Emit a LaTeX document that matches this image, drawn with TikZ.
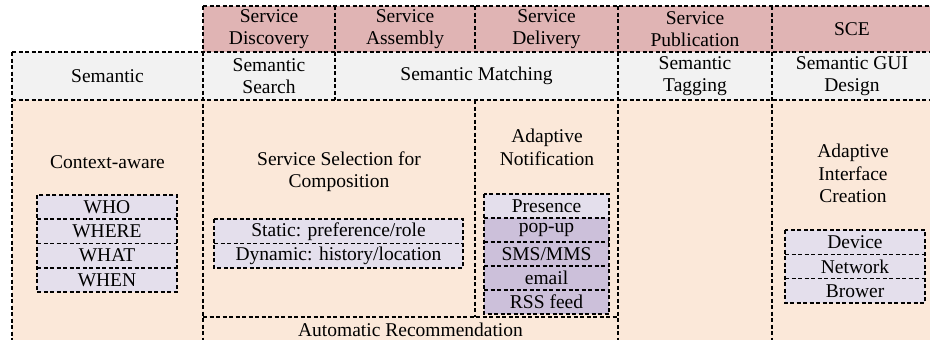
\documentclass[tikz,border=0pt]{standalone}
\usepackage{fontspec}
\setmainfont{Liberation Serif}
\usepackage{xcolor}
\usetikzlibrary{positioning}
\definecolor{phasecol}{HTML}{E0B4B4}
\definecolor{semcol}{HTML}{F2F2F2}
\definecolor{areacol}{HTML}{FBE8D9}
\definecolor{itemcol}{HTML}{E4DFEC}
\definecolor{darkcol}{HTML}{CCC0DA}

\begin{document}
\begin{tikzpicture}[x=1pt, y=-1pt, font=\fontsize{19.5}{22.5}\selectfont,
    box/.style={inner sep=0pt, outer sep=0pt, align=center},
    phase/.style={box, fill=phasecol, minimum height=46pt},
    layer/.style={box, fill=semcol, minimum height=48pt},
    area/.style={box, fill=areacol},
    item/.style={box, fill=itemcol, minimum height=24.3pt},
    darkitem/.style={item, fill=darkcol},
    txt/.style={align=center, inner sep=0pt},
    dashline/.style={line width=1.6pt, dash pattern=on 4pt off 2.5pt}]
    \useasboundingbox (0,0) rectangle (930,340);
    \node[phase, minimum width=132pt] (disc) at (269,29) {Service\\Discovery};
    \node[phase, minimum width=140pt, right=0pt of disc] (asm) {Service\\Assembly};
    \node[phase, minimum width=143pt, right=0pt of asm] (deliv) {Service\\Delivery};
    \node[phase, minimum width=154pt, right=0pt of deliv] (pub) {Service\\Publication};
    \node[phase, minimum width=160pt, right=0pt of pub] (sce) {SCE};
    \node[layer, minimum width=191pt] (sem) at (107.5,76) {Semantic};
    \node[layer, minimum width=132pt, right=0pt of sem] (ssearch) {Semantic\\Search};
    \node[layer, minimum width=283pt, right=0pt of ssearch] (smatch) {Semantic Matching};
    \node[layer, minimum width=154pt, right=0pt of smatch] (stag) {Semantic\\Tagging};
    \node[layer, minimum width=160pt, right=0pt of stag] (sgui) {Semantic GUI\\Design};
    \node[area, minimum width=191pt, minimum height=245pt, below=0pt of sem] (ctx) {};
    \node[area, minimum width=272pt, minimum height=217pt, anchor=north west] (selc) at (ssearch.south west) {};
    \node[area, minimum width=143pt, minimum height=217pt, anchor=north west] (notif) at (selc.north east) {};
    \node[area, minimum width=154pt, minimum height=245pt, below=0pt of stag] (pubc) {};
    \node[area, minimum width=160pt, minimum height=245pt, below=0pt of sgui] (aic) {};
    \node[area, minimum width=415pt, minimum height=25pt, anchor=north west] (autorec) at (selc.south west) {Automatic Recommendation};
    \draw[dashline] (disc.north west) -- (sce.north east);
    \draw[dashline] (sem.north west) -- (sgui.north east);
    \draw[dashline] (sem.south west) -- (sgui.south east);
    \draw[dashline] (autorec.north west) -- (autorec.north east);
    \draw[dashline] (sem.north west) -- (ctx.south west);
    \draw[dashline] (disc.north west) -- (autorec.south west);
    \draw[dashline] (asm.north west) -- (ssearch.south east);
    \draw[dashline] (deliv.north west) -- (deliv.south west);
    \draw[dashline] (notif.north west) -- (notif.south west);
    \draw[dashline] (pub.north west) -- (pubc.south west);
    \draw[dashline] (sce.north west) -- (aic.south west);
    \node[txt] (ctxt) at (107.5,162) {Context-aware};
    \node[txt] (selt) at (339,171.5) {Service Selection for\\Composition};
    \node[txt] (nott) at (547,147.5) {Adaptive\\Notification};
    \node[txt] (aict) at (853,173.5) {Adaptive\\Interface\\Creation};
    \node[item, minimum width=140pt] (who) at (107,207) {WHO};
    \node[item, minimum width=140pt, below=0pt of who] (where) {WHERE};
    \node[item, minimum width=140pt, below=0pt of where] (what) {WHAT};
    \node[item, minimum width=140pt, below=0pt of what] (when) {WHEN};
    \draw[dashline] (who.north west) rectangle (when.south east);
    \foreach \n in {who,where,what}
        \draw[dashline] (\n.south west) -- (\n.south east);
    \node[item, minimum width=249pt] (static) at (338.5,231.3) {Static: preference/role};
    \node[item, minimum width=249pt, below=0pt of static] (dynamic) {Dynamic: history/location};
    \draw[dashline] (static.north west) rectangle (dynamic.south east);
    \draw[dashline] (static.south west) -- (static.south east);
    \node[item, minimum width=125pt, minimum height=24pt] (presence) at (546.5,206) {Presence};
    \node[darkitem, minimum width=125pt, minimum height=24pt, below=0pt of presence] (popup) {pop-up};
    \node[darkitem, minimum width=125pt, minimum height=24pt, below=0pt of popup] (sms) {SMS/MMS};
    \node[darkitem, minimum width=125pt, minimum height=24pt, below=0pt of sms] (email) {email};
    \node[darkitem, minimum width=125pt, minimum height=24pt, below=0pt of email] (rss) {RSS feed};
    \draw[dashline] (presence.north west) rectangle (rss.south east);
    \foreach \n in {presence,popup,sms,email}
        \draw[dashline] (\n.south west) -- (\n.south east);
    \node[item, minimum width=140pt] (device) at (855,242.2) {Device};
    \node[item, minimum width=140pt, below=0pt of device] (network) {Network};
    \node[item, minimum width=140pt, below=0pt of network] (brower) {Brower};
    \draw[dashline] (device.north west) rectangle (brower.south east);
    \foreach \n in {device,network}
        \draw[dashline] (\n.south west) -- (\n.south east);
\end{tikzpicture}
\end{document}
